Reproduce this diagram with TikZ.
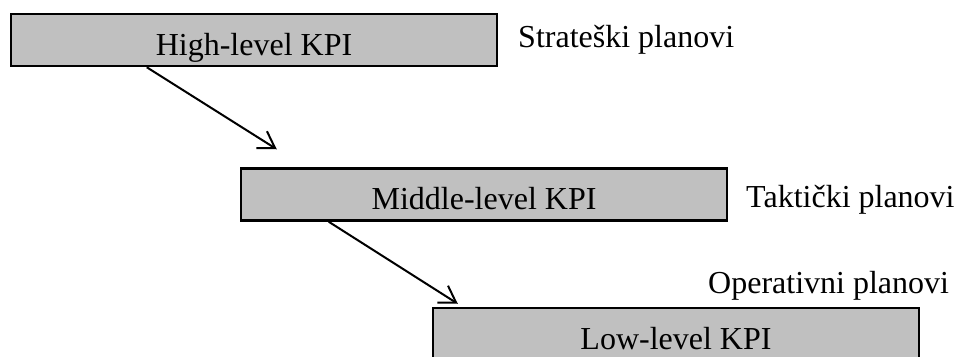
\documentclass[tikz,border=0pt]{standalone}
\usepackage{fontspec}
\setmainfont{Liberation Serif}
\usetikzlibrary{arrows.meta}
\begin{document}
\begin{tikzpicture}[x=1pt,y=-1pt,
  kpibox/.style={draw=black, line width=2.5pt, fill={rgb,255:red,192;green,192;blue,192},
    minimum width=486pt, minimum height=52pt, inner sep=0pt,
    text height=30pt, text depth=0pt, font=\fontsize{32}{38}\selectfont},
  sidelabel/.style={anchor=base west, inner sep=0pt, font=\fontsize{32}{38}\selectfont},
  kpiarrow/.style={line width=2pt, -{Straight Barb[length=16pt,width=20pt,line width=2pt]}}]
\useasboundingbox (0,0) rectangle (960,356);
\clip (0,0) rectangle (960,356);
\node[kpibox] (high) at (254,40) {High-level KPI};
\node[kpibox] (mid) at (484,194.5) {Middle-level KPI};
\node[kpibox] (low) at (676,334) {Low-level KPI};
\node[sidelabel] (strat) at (518,47) {Strateški planovi};
\node[sidelabel] (takt) at (746,207) {Taktički planovi};
\node[sidelabel] (oper) at (708,293) {Operativni planovi};
\coordinate (t1) at ([xshift=37pt,yshift=18pt]mid.north west);
\coordinate (t2) at ([xshift=26pt,yshift=3pt]low.north west);
\draw[kpiarrow] ([xshift=137pt]high.south west) -- (t1);
\draw[kpiarrow] ([xshift=89pt]mid.south west) -- (t2);
\end{tikzpicture}
\end{document}
